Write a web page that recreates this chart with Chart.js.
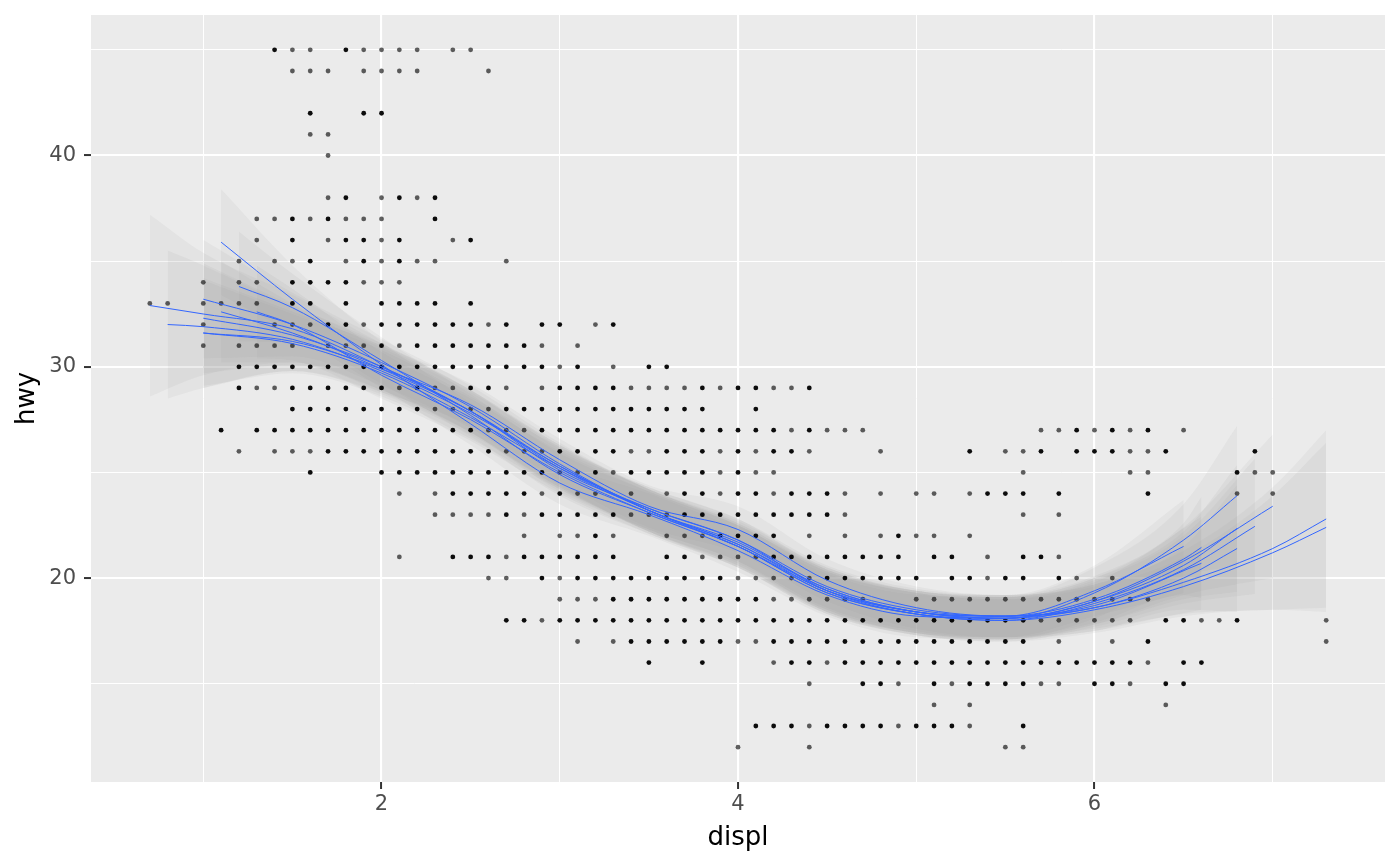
<!DOCTYPE html>
<html>
<head>
<meta charset="utf-8">
<script src="https://cdn.jsdelivr.net/npm/chart.js@4.4.1/dist/chart.umd.min.js"></script>
<style>
  body { margin: 0; background: #ffffff; }
</style>
</head>
<body>
<canvas id="mpg-chart" width="1400" height="866"></canvas>
<script>
"use strict";

// hwy rows, and the displ values sitting on each row
const hwyRows = [45, 44, 42, 41, 40, 38, 37, 36, 35, 34, 33, 32, 31, 30, 29, 28,
  27, 26, 25, 24, 23, 22, 21, 20, 19, 18, 17, 16, 15, 14, 13, 12];

// points that look solid black (several overlapping)
const darkDispl = [
  [1.4, 1.8],
  [],
  [1.6, 1.9, 2.0],
  [],
  [],
  [1.8, 2.1, 2.3],
  [1.5, 1.7, 2.3],
  [1.5, 1.8, 1.9, 2.1, 2.5],
  [1.6, 1.9, 2.1],
  [1.5, 1.6, 1.7, 1.8],
  [1.5, 1.6, 1.8, 2.0, 2.1, 2.2, 2.3, 2.5],
  [1.7, 1.8, 2.0, 2.1, 2.2, 2.3, 2.4, 2.5, 2.7, 2.9, 3.0, 3.3],
  [2.0, 2.2, 2.3, 2.4, 2.5, 2.6, 2.7, 2.8],
  [1.2, 1.3, 1.4, 1.5, 1.6, 1.7, 1.8, 1.9, 2.0, 2.1, 2.2, 2.3, 2.4, 2.5, 2.6, 2.7, 2.8, 2.9, 3.1, 3.5, 3.6],
  [1.2, 1.5, 1.6, 1.7, 1.8, 1.9, 2.0, 2.2, 2.5, 2.6, 3.0, 3.1, 3.2, 3.3, 3.8, 4.0, 4.1, 4.4],
  [1.5, 1.6, 1.7, 1.8, 1.9, 2.0, 2.1, 2.2, 2.7, 2.8, 2.9, 3.0, 3.1, 3.2, 3.3, 3.4, 3.5, 3.6, 3.7, 3.8, 4.1],
  [1.1, 1.3, 1.4, 1.5, 1.6, 1.7, 1.8, 1.9, 2.0, 2.1, 2.2, 2.3, 2.4, 2.5, 2.9, 3.0, 3.1, 3.2, 3.3, 3.4, 3.5, 3.6, 3.7, 3.8, 3.9, 4.0, 4.1, 4.2, 4.4, 5.9, 6.1, 6.3],
  [1.7, 1.8, 1.9, 2.0, 2.1, 2.2, 2.3, 2.4, 2.5, 2.6, 3.0, 3.1, 3.2, 3.3, 3.6, 3.7, 3.8, 4.0, 4.2, 4.3, 5.3, 5.7, 5.9, 6.0, 6.1, 6.4, 6.9],
  [1.6, 2.0, 2.1, 2.2, 2.3, 2.4, 2.5, 2.6, 2.7, 2.8, 2.9, 3.2, 3.4, 3.5, 3.6, 3.7, 3.8, 4.0, 6.8],
  [2.4, 2.5, 2.6, 2.7, 2.8, 3.0, 3.7, 3.8, 4.0, 4.1, 4.3, 4.4, 4.5, 5.4, 5.5, 5.6, 5.8, 6.3],
  [2.7, 2.9, 3.0, 3.1, 3.2, 3.3, 3.7, 3.8, 3.9, 4.0, 4.1, 4.2, 4.3, 4.4, 4.5],
  [3.2, 3.9, 4.0, 4.1, 4.2, 4.9],
  [2.4, 2.5, 2.6, 2.8, 2.9, 3.0, 3.1, 3.2, 3.3, 3.6, 3.7, 4.2, 4.3, 4.4, 4.5, 4.6, 4.7, 4.8, 4.9, 5.1, 5.2, 5.6, 5.7],
  [2.9, 3.1, 3.2, 3.3, 3.4, 3.5, 3.6, 3.7, 3.8, 3.9, 4.5, 4.6, 4.7, 4.8, 4.9, 5.0, 5.2, 5.3, 5.5, 5.6, 5.8],
  [3.3, 3.4, 3.5, 3.6, 3.7, 3.8, 3.9, 4.0, 4.1],
  [2.7, 2.8, 3.0, 3.1, 3.2, 3.3, 3.4, 3.5, 3.6, 3.7, 3.8, 3.9, 4.0, 4.1, 4.2, 4.3, 4.4, 4.5, 4.6, 4.7, 4.8, 4.9, 5.0, 5.1, 5.2, 5.3, 5.4, 5.5, 5.6, 6.4, 6.5, 6.8],
  [3.4, 3.5, 3.6, 3.7, 3.8, 3.9, 4.2, 4.3, 4.4, 4.5, 4.6, 4.7, 4.8, 4.9, 5.0, 5.1, 5.2, 5.3, 5.4, 5.5, 5.6, 6.3],
  [3.5, 3.8, 4.3, 4.4, 4.6, 4.7, 4.8, 4.9, 5.0, 5.1, 5.2, 5.3, 5.4, 5.5, 5.6, 5.7, 5.8, 5.9, 6.0, 6.1, 6.2, 6.5, 6.6],
  [4.7, 4.8, 5.1, 5.3, 5.4, 5.5, 5.6, 6.0, 6.1, 6.4, 6.5],
  [],
  [4.1, 4.2, 4.3, 4.5, 4.6, 4.7, 4.8, 5.0, 5.1, 5.2, 5.6],
  []
];

// points that look grey (a single point)
const lightDispl = [
  [1.5, 1.6, 1.9, 2.0, 2.1, 2.2, 2.4, 2.5],
  [1.5, 1.6, 1.7, 1.9, 2.0, 2.1, 2.2, 2.6],
  [],
  [1.6, 1.7],
  [1.7],
  [1.7, 2.0, 2.2],
  [1.3, 1.4, 1.6, 1.8, 1.9, 2.0],
  [1.3, 1.7, 2.0, 2.4],
  [1.2, 1.4, 1.5, 1.8, 2.0, 2.2, 2.3, 2.7],
  [1.0, 1.2, 1.3, 1.9, 2.0, 2.1],
  [0.7, 0.8, 1.0, 1.1, 1.2, 1.3],
  [1.0, 1.4, 1.5, 1.6, 1.9, 2.6, 3.2],
  [1.0, 1.2, 1.3, 1.4, 1.5, 1.7, 1.8, 1.9, 2.1, 2.9, 3.1],
  [3.0, 3.3],
  [1.3, 1.4, 2.1, 2.3, 2.4, 2.7, 2.9, 3.4, 3.5, 3.6, 3.7, 3.9, 4.2, 4.3],
  [2.3, 2.4, 2.5, 2.6],
  [2.6, 2.7, 2.8, 4.3, 4.5, 4.6, 4.7, 5.7, 5.8, 6.0, 6.2, 6.5],
  [1.2, 1.4, 1.5, 1.6, 2.7, 2.8, 2.9, 3.4, 3.5, 3.9, 4.1, 4.4, 4.8, 5.5, 5.6, 6.2, 6.3],
  [3.0, 3.1, 3.3, 3.9, 4.1, 4.2, 5.6, 6.2, 6.3, 6.9, 7.0],
  [2.1, 2.3, 2.9, 3.1, 3.2, 3.4, 3.6, 3.9, 4.2, 4.6, 4.8, 5.0, 5.1, 5.3, 6.8, 7.0],
  [2.3, 2.4, 2.5, 2.6, 2.8, 3.4, 3.5, 3.6, 4.6, 5.6, 5.8],
  [2.8, 3.0, 3.1, 3.3, 3.6, 3.7, 3.8, 4.4, 4.6, 4.8, 5.0, 5.1, 5.3],
  [2.1, 2.7, 3.8, 3.9, 4.0, 4.1, 5.4, 5.8],
  [2.6, 2.7, 3.0, 4.0, 4.1, 4.2, 4.3, 4.4, 5.4, 5.9, 6.1],
  [3.0, 3.1, 3.2, 4.2, 4.3, 4.4, 4.5, 4.6, 4.7, 5.0, 5.1, 5.2, 5.3, 5.4, 5.5, 5.6, 5.7, 5.8, 5.9, 6.0, 6.1, 6.2, 6.3],
  [2.9, 5.7, 5.8, 5.9, 6.0, 6.1, 6.2, 6.6, 6.7, 7.3],
  [3.1, 3.3, 4.0, 4.1, 5.8, 6.1, 7.3],
  [4.2, 4.5, 6.3],
  [4.4, 4.9, 5.2, 5.7, 5.8, 6.2],
  [5.1, 5.3, 6.4],
  [4.4, 4.9, 5.3],
  [4.0, 4.4, 5.5, 5.6]
];

// smoothed fits, one list per resample: displ, fitted hwy and its standard error
const fitDispl = [
  [0.7, 1.0, 1.5, 2.0, 2.5, 3.0, 3.5, 4.0, 4.5, 5.0, 5.5, 6.0, 6.5, 7.0, 7.3],
  [0.8, 1.0, 1.5, 2.0, 2.5, 3.0, 3.5, 4.0, 4.5, 5.0, 5.5, 6.0, 6.5, 7.0, 7.3],
  [1.0, 1.5, 2.0, 2.5, 3.0, 3.5, 4.0, 4.5, 5.0, 5.5, 6.0, 6.5, 7.0],
  [1.0, 1.5, 2.0, 2.5, 3.0, 3.5, 4.0, 4.5, 5.0, 5.5, 6.0, 6.5, 6.9],
  [1.0, 1.5, 2.0, 2.5, 3.0, 3.5, 4.0, 4.5, 5.0, 5.5, 6.0, 6.5, 6.8],
  [1.1, 1.5, 2.0, 2.5, 3.0, 3.5, 4.0, 4.5, 5.0, 5.5, 6.0, 6.5, 6.8],
  [1.1, 1.5, 2.0, 2.5, 3.0, 3.5, 4.0, 4.5, 5.0, 5.5, 6.0, 6.5, 6.6],
  [1.2, 1.5, 2.0, 2.5, 3.0, 3.5, 4.0, 4.5, 5.0, 5.5, 6.0, 6.5, 6.8],
  [1.3, 1.5, 2.0, 2.5, 3.0, 3.5, 4.0, 4.5, 5.0, 5.5, 6.0, 6.5],
  [1.0, 1.5, 2.0, 2.5, 3.0, 3.5, 4.0, 4.5, 5.0, 5.5, 6.0, 6.6]
];
const fitHwy = [
  [32.9, 32.5, 31.8, 30.0, 27.9, 25.2, 23.2, 21.6, 19.4, 18.4, 18.1, 18.6, 19.8, 21.4, 22.8],
  [32.0, 31.9, 31.3, 29.8, 27.8, 25.3, 23.2, 21.5, 19.3, 18.3, 18.0, 18.5, 19.6, 21.2, 22.4],
  [33.2, 32.0, 30.2, 28.1, 25.4, 23.2, 21.7, 19.5, 18.4, 18.1, 18.9, 20.8, 23.4],
  [32.3, 31.5, 30.0, 27.9, 25.1, 23.3, 21.8, 19.4, 18.3, 18.0, 18.8, 20.4, 22.45],
  [31.6, 31.2, 29.9, 28.2, 25.6, 23.4, 22.3, 19.9, 18.6, 18.2, 18.6, 20.0, 21.4],
  [35.9, 33.2, 30.1, 27.3, 24.5, 23.0, 21.3, 19.2, 18.2, 18.1, 19.3, 21.8, 23.9],
  [32.6, 31.6, 29.9, 27.9, 25.3, 23.2, 21.6, 19.5, 18.4, 18.2, 19.0, 20.9, 21.45],
  [33.8, 32.8, 30.3, 27.7, 24.9, 23.1, 21.5, 19.3, 18.3, 18.1, 18.9, 20.6, 22.35],
  [32.6, 32.0, 29.6, 27.5, 25.0, 23.1, 21.5, 19.4, 18.4, 18.2, 19.4, 21.5],
  [31.6, 31.1, 29.7, 27.6, 25.2, 23.3, 21.8, 19.6, 18.5, 18.2, 18.7, 20.7]
];
const fitSe = [
  [4.3, 2.9, 1.6, 1.1, 1.0, 1.0, 1.0, 1.0, 1.0, 1.0, 1.0, 1.1, 1.5, 2.9, 4.2],
  [3.5, 2.9, 1.5, 1.1, 1.0, 1.0, 1.0, 1.0, 1.0, 1.0, 1.0, 1.1, 1.4, 2.7, 4.0],
  [2.8, 1.5, 1.1, 1.0, 1.0, 1.0, 1.0, 1.0, 1.0, 1.0, 1.1, 1.6, 3.4],
  [2.6, 1.4, 1.1, 1.0, 1.0, 1.0, 1.0, 1.0, 1.0, 1.0, 1.1, 1.6, 3.2],
  [2.6, 1.4, 1.1, 1.0, 1.0, 1.0, 1.1, 1.0, 1.0, 1.0, 1.1, 1.5, 3.0],
  [2.5, 1.6, 1.1, 1.0, 1.0, 1.0, 1.0, 1.0, 1.0, 1.0, 1.2, 1.7, 3.3],
  [2.4, 1.4, 1.1, 1.0, 1.0, 1.0, 1.0, 1.0, 1.0, 1.0, 1.1, 1.7, 2.4],
  [2.6, 1.6, 1.1, 1.0, 1.0, 1.0, 1.0, 1.0, 1.0, 1.0, 1.1, 1.6, 3.0],
  [2.2, 1.7, 1.1, 1.0, 1.0, 1.0, 1.0, 1.0, 1.0, 1.0, 1.2, 2.2],
  [2.5, 1.4, 1.1, 1.0, 1.0, 1.0, 1.0, 1.0, 1.0, 1.0, 1.1, 2.2]
];

const xTicks = [1, 2, 3, 4, 5, 6, 7];
const yTicks = [15, 20, 25, 30, 35, 40, 45];

function rowsToPoints(rows) {
  const pts = [];
  hwyRows.forEach((hwy, i) => {
    rows[i].forEach(d => pts.push({ x: d, y: hwy }));
  });
  return pts;
}

const datasets = [];

// fitted lines on top
fitDispl.forEach((xs, k) => {
  datasets.push({
    type: "line",
    data: xs.map((x, i) => ({ x: x, y: fitHwy[k][i] })),
    borderColor: "#3366FF",
    borderWidth: 1,
    pointRadius: 0,
    fill: false,
    cubicInterpolationMode: "monotone",
    order: 0,
  });
});

datasets.push({
  type: "scatter",
  data: rowsToPoints(darkDispl),
  backgroundColor: "rgba(0,0,0,0.95)",
  borderWidth: 0,
  pointRadius: 2.4,
  order: 1,
});
datasets.push({
  type: "scatter",
  data: rowsToPoints(lightDispl),
  backgroundColor: "rgba(0,0,0,0.62)",
  borderWidth: 0,
  pointRadius: 2.4,
  order: 1,
});

// confidence ribbons: upper edge filled down to the lower edge right after it
fitDispl.forEach((xs, k) => {
  datasets.push({
    type: "line",
    data: xs.map((x, i) => ({ x: x, y: fitHwy[k][i] + fitSe[k][i] })),
    borderColor: "rgba(0,0,0,0)",
    borderWidth: 0,
    pointRadius: 0,
    backgroundColor: "rgba(153,153,153,0.1)",
    fill: "+1",
    cubicInterpolationMode: "monotone",
    order: 2,
  });
  datasets.push({
    type: "line",
    data: xs.map((x, i) => ({ x: x, y: fitHwy[k][i] - fitSe[k][i] })),
    borderColor: "rgba(0,0,0,0)",
    borderWidth: 0,
    pointRadius: 0,
    fill: false,
    cubicInterpolationMode: "monotone",
    order: 2,
  });
});

const panelBackground = {
  id: "panelBackground",
  beforeDraw(chart) {
    const { ctx, chartArea } = chart;
    ctx.save();
    ctx.fillStyle = "#EBEBEB";
    ctx.fillRect(chartArea.left, chartArea.top, chartArea.right - chartArea.left, chartArea.bottom - chartArea.top);
    ctx.restore();
  },
};

const isMajorX = v => v % 2 === 0;
const isMajorY = v => v % 10 === 0;

function renderChart(canvasId) {
  const ctx = document.getElementById(canvasId).getContext("2d");
  return new Chart(ctx, {
    type: "scatter",
    data: { datasets: datasets },
    plugins: [panelBackground],
    options: {
      responsive: false,
      animation: false,
      devicePixelRatio: 1,
      layout: { padding: { left: 0, top: 15, right: 15, bottom: 0 } },
      plugins: { legend: { display: false }, tooltip: { enabled: false } },
      scales: {
        x: {
          type: "linear",
          min: 0.37,
          max: 7.63,
          afterBuildTicks: scale => { scale.ticks = xTicks.map(v => ({ value: v })); },
          afterFit: scale => {
            scale.height = 84;
            scale.paddingLeft = 0;
            scale.paddingRight = 0;
          },
          border: { display: false },
          grid: {
            color: "#FFFFFF",
            lineWidth: c => (isMajorX(c.tick.value) ? 2.1 : 1),
            drawTicks: true,
            tickLength: 7,
            tickColor: c => (isMajorX(c.tick.value) ? "#333333" : "rgba(0,0,0,0)"),
            tickWidth: c => (isMajorX(c.tick.value) ? 2 : 0),
          },
          ticks: {
            autoSkip: false,
            maxRotation: 0,
            padding: 3,
            color: "#4D4D4D",
            font: { family: "DejaVu Sans", size: 21 },
            callback: v => (isMajorX(v) ? String(v) : ""),
          },
          title: {
            display: true,
            text: "displ",
            color: "#000000",
            font: { family: "DejaVu Sans", size: 26 },
            padding: { top: 0, bottom: 12 },
          },
        },
        y: {
          type: "linear",
          min: 10.35,
          max: 46.65,
          afterBuildTicks: scale => { scale.ticks = yTicks.map(v => ({ value: v })); },
          afterFit: scale => {
            scale.width = 91;
            scale.paddingTop = 0;
            scale.paddingBottom = 0;
          },
          border: { display: false },
          grid: {
            color: "#FFFFFF",
            lineWidth: c => (isMajorY(c.tick.value) ? 2.1 : 1),
            drawTicks: true,
            tickLength: 7,
            tickColor: c => (isMajorY(c.tick.value) ? "#333333" : "rgba(0,0,0,0)"),
            tickWidth: c => (isMajorY(c.tick.value) ? 2 : 0),
          },
          ticks: {
            autoSkip: false,
            padding: 8,
            color: "#4D4D4D",
            font: { family: "DejaVu Sans", size: 21 },
            callback: v => (isMajorY(v) ? String(v) : ""),
          },
          title: {
            display: true,
            text: "hwy",
            color: "#000000",
            font: { family: "DejaVu Sans", size: 26 },
            padding: { top: 12, bottom: 0 },
          },
        },
      },
    },
  });
}

const mpgChart = renderChart("mpg-chart");
</script>
</body>
</html>
